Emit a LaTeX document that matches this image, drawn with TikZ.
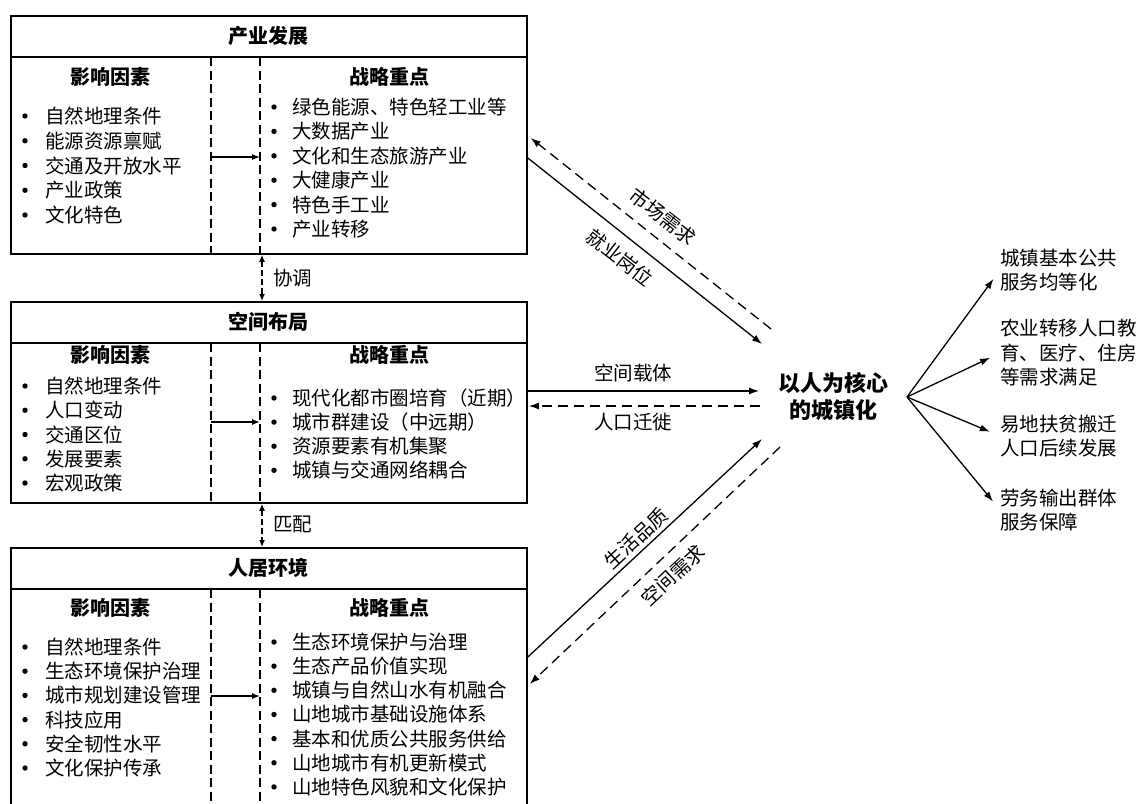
\documentclass[tikz,border=0pt]{standalone}
\usepackage{fontspec}
\setmainfont{Noto Sans CJK SC}
\usetikzlibrary{arrows.meta,calc}
\tikzset{
  boxline/.style={line width=1.8pt},
  divline/.style={line width=1.2pt, dash pattern=on 9pt off 4.5pt},
  conn/.style={line width=1.3pt, -{Latex[length=10pt,width=7pt]}},
  dconn/.style={conn, dash pattern=on 10pt off 6pt},
  inconn/.style={line width=1.3pt, -{Latex[length=8pt,width=6pt]}},
  bi/.style={line width=1.3pt, {Latex[length=7pt,width=6pt]}-{Latex[length=7pt,width=6pt]}, dash pattern=on 6pt off 3pt},
  itemtxt/.style={anchor=base west, inner sep=0pt, font=\fontsize{19.5}{24}\selectfont, text=black},
  headtxt/.style={inner sep=0pt, font=\fontsize{20}{24}\selectfont\bfseries},
  outtxt/.style={anchor=west, inner sep=0pt, align=left, font=\fontsize{19.5}{24.5}\selectfont, text=black},
  lbl/.style={inner sep=0pt, font=\fontsize{19.5}{24}\selectfont, text=black},
  panel/.style={draw, boxline, anchor=north west, inner sep=0pt, minimum width=516pt},
}
\newcommand\itemlist[6]{%
  \foreach \t [count=\i] in {#6}{%
    \fill[black] (#2,{#4+#5*(\i-1)}) circle (2.7pt);
    \node[itemtxt] (#1\i) at (#3,{#4+#5*(\i-1)+7.5}) {\t};
  }}
\begin{document}
\begin{tikzpicture}[x=1pt,y=-1pt]
\useasboundingbox (0,0) rectangle (1142,803);
\clip (0,0) rectangle (1142,803);
\fill[white] (0,0) rectangle (1142,803);

% ---------- panel 1
\node[panel, minimum height=238pt] (p1) at (10,15) {};
\draw[boxline] (10,57) -- (526,57);
\node[headtxt] (p1t) at (268,36) {产业发展};
\draw[divline] (211,57) -- (211,253);
\draw[divline] (260,57) -- (260,253);
\node[headtxt] (p1h1) at (110,77) {影响因素};
\node[headtxt] (p1h2) at (389,77) {战略重点};
\itemlist{p1a}{25}{45}{116}{24.75}{自然地理条件,能源资源禀赋,交通及开放水平,产业政策,文化特色}
\itemlist{p1b}{274}{292}{107}{24.4}{绿色能源、特色轻工业等,大数据产业,文化和生态旅游产业,大健康产业,特色手工业,产业转移}
\coordinate (p1s) at (211,157);
\coordinate (p1e) at (260,157);
\draw[inconn] (p1s) -- (p1e);

% ---------- panel 2
\node[panel, minimum height=201pt] (p2) at (10,301) {};
\draw[boxline] (10,343) -- (526,343);
\node[headtxt] (p2t) at (268,322) {空间布局};
\draw[divline] (211,343) -- (211,502);
\draw[divline] (260,343) -- (260,502);
\node[headtxt] (p2h1) at (110,355) {影响因素};
\node[headtxt] (p2h2) at (389,355) {战略重点};
\itemlist{p2a}{25}{45}{386}{24.25}{自然地理条件,人口变动,交通区位,发展要素,宏观政策}
\itemlist{p2b}{274}{292}{398}{24.1}{现代化都市圈培育（近期）,城市群建设（中远期）,资源要素有机集聚,城镇与交通网络耦合}
\coordinate (p2s) at (211,422);
\coordinate (p2e) at (260,422);
\draw[inconn] (p2s) -- (p2e);

% ---------- panel 3
\node[panel, minimum height=300pt] (p3) at (10,547) {};
\draw[boxline] (10,589) -- (526,589);
\node[headtxt] (p3t) at (268,568) {人居环境};
\draw[divline] (211,589) -- (211,803);
\draw[divline] (260,589) -- (260,803);
\node[headtxt] (p3h1) at (110,608) {影响因素};
\node[headtxt] (p3h2) at (389,608) {战略重点};
\itemlist{p3a}{25}{45}{647}{24.2}{自然地理条件,生态环境保护治理,城市规划建设管理,科技应用,安全韧性水平,文化保护传承}
\itemlist{p3b}{274}{292}{642}{24.15}{生态环境保护与治理,生态产品价值实现,城镇与自然山水有机融合,山地城市基础设施体系,基本和优质公共服务供给,山地城市有机更新模式,山地特色风貌和文化保护}
\coordinate (p3s) at (211,696);
\coordinate (p3e) at (260,696);
\draw[inconn] (p3s) -- (p3e);

% ---------- links between panels
\draw[bi] ($(p1.south west)+(252,0)$) -- ($(p2.north west)+(252,0)$);
\node[lbl, anchor=west] (xt) at (273,278) {协调};
\draw[bi] ($(p2.south west)+(252,0)$) -- ($(p3.north west)+(252,0)$);
\node[lbl, anchor=west] (pp) at (273,524) {匹配};

% ---------- centre
\node[inner sep=0pt, align=center, font=\fontsize{22}{27}\selectfont\bfseries] (ctr) at (833,397) {以人为核心\\的城镇化};

\coordinate (a1e) at (762,344);
\coordinate (a2s) at (771,329);
\coordinate (a3e) at (759,391);
\coordinate (a4s) at (760,406);
\coordinate (a5e) at (762,439);
\coordinate (a6s) at (780,447);

\draw[conn] ($(p1.north east)+(0,143)$) -- (a1e);
\draw[dconn] (a2s) -- ($(p1.north east)+(3,123)$);
\draw[conn] ($(p2.north east)+(0,90)$) -- (a3e);
\draw[dconn] (a4s) -- ($(p2.north east)+(1,105)$);
\draw[conn] ($(p3.north east)+(0,110)$) -- (a5e);
\draw[dconn] (a6s) -- ($(p3.north east)+(2,137)$);

\node[lbl, rotate=-38] (l1) at (663,217) {市场需求};
\node[lbl, rotate=-38] (l2) at (620,258) {就业岗位};
\node[lbl] (l3) at (633,373) {空间载体};
\node[lbl] (l4) at (633,422) {人口迁徙};
\node[lbl, rotate=43] (l5) at (636,538) {生活品质};
\node[lbl, rotate=43] (l6) at (673,575) {空间需求};

% ---------- outcomes
\coordinate (fan) at (907,397);
\node[outtxt] (o1) at (1000,270) {城镇基本公共\\服务均等化};
\node[outtxt] (o2) at (1000,353) {农业转移人口教\\育、医疗、住房\\等需求满足};
\node[outtxt] (o3) at (1000,436) {易地扶贫搬迁\\人口后续发展};
\node[outtxt] (o4) at (1000,510) {劳务输出群体\\服务保障};
\foreach \o in {o1,o2,o3,o4}{
  \draw[conn, shorten >=11pt] (fan) -- (\o.west);
}
\end{tikzpicture}
\end{document}
